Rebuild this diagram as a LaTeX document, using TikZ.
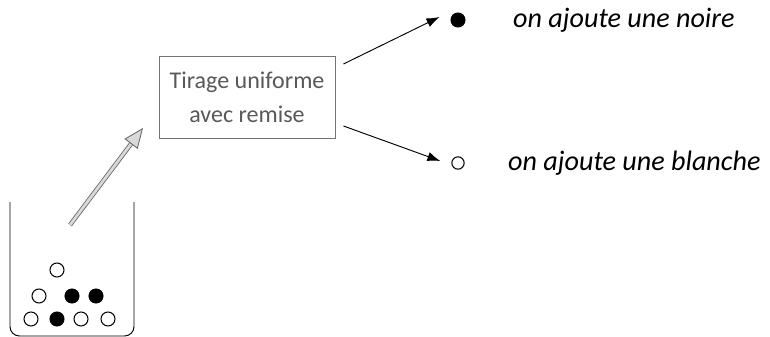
\documentclass[tikz,border=0pt]{standalone}
\usepackage{fontspec}
\setmainfont{Carlito}
\usetikzlibrary{arrows.meta}
\begin{document}
\begin{tikzpicture}[x=0.03cm, y=-0.03cm]
	    \tikzset{>={Latex[length=11pt, width=8pt]},
	      blanche/.style={circle, draw, line width=0.9pt, fill=white, minimum size=0.42cm, inner sep=0pt},
	      noire/.style={blanche, fill=black},
	      etiquette/.style={anchor=west, inner sep=0pt, font=\fontsize{24}{28}\selectfont\itshape}}
	    \useasboundingbox (0,0) rectangle (770,337);
	    % urne
	    \draw[line width=0.8pt, rounded corners=8pt] (10,202) -- (10,336) -- (134,336) -- (134,202);
	    \node[blanche] (h1) at (57,270) {};
	    \node[blanche] (m1) at (39,296) {};
	    \node[noire] (m2) at (72,296) {};
	    \node[noire] (m3) at (96,296) {};
	    \node[blanche] (b1) at (31,319) {};
	    \node[noire] (b2) at (57,319) {};
	    \node[blanche] (b3) at (81,319) {};
	    \node[blanche] (b4) at (108,319) {};
	    \node[draw=black!55, line width=0.8pt, text=black!65, align=center, font=\fontsize{20.5}{29}\selectfont,
	      minimum width=5.28cm, minimum height=2.46cm] (tirage) at (247,97) {Tirage uniforme\\avec remise};
	    \coordinate (depart) at (70,225);
	    \coordinate (pointe) at (143,128);
	    \draw[black!60, line width=0.7pt, double=black!15, double distance=2.4pt,
	      -{Triangle[length=17pt, width=14pt, fill=black!15]}] (depart) -- (pointe);
	    % resultats
	    \node[noire] (noire) at (458,20) {};
	    \node[blanche, minimum size=0.37cm] (blanche) at (458,163) {};
	    \draw[->, line width=0.8pt] ([shift={(8,-33)}]tirage.east) -- ([shift={(-11,-3)}]noire.west);
	    \draw[->, line width=0.8pt] ([shift={(8,29)}]tirage.east) -- ([shift={(-11,-2)}]blanche.west);
	    \node[etiquette] (lnoire) at (513,20) {on ajoute une noire};
	    \node[etiquette] (lblanche) at (508,163) {on ajoute une blanche};
	\end{tikzpicture}
\end{document}
